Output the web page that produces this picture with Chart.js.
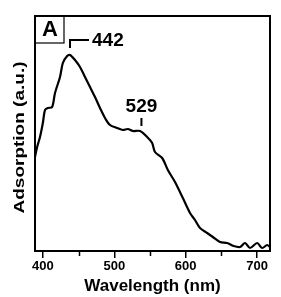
<!DOCTYPE html>
<html lang="en">
<head>
<meta charset="UTF-8">
<title>Adsorption spectrum</title>
<script src="https://cdn.jsdelivr.net/npm/chart.js"></script>
<style>
    html, body { margin: 0; padding: 0; background: #fff; }
    #wrap { position: relative; width: 281px; height: 297px; }
</style>
</head>
<body>
<div id="wrap"><canvas id="spec"></canvas></div>
<script>
// spectrum (wavelength in nm, absorption in arbitrary units)
const wavelength = [389, 392, 396, 400, 403, 407, 413, 417, 424, 428, 434, 438, 445, 452, 459, 466, 473, 480, 487, 494, 504, 512, 519, 526, 536, 546, 553, 557, 567, 575, 585, 596, 606, 613, 620, 630, 638, 648, 658, 667, 676, 683, 690, 700, 707, 714, 718];
const absorption = [94, 104, 114, 128, 141, 143, 144, 158, 174, 188, 195, 196, 191, 184, 174, 164, 154, 143, 133, 126, 123, 121, 122, 120, 120, 114, 108, 99, 93, 81, 69, 53, 38, 31, 23, 18, 14, 9, 8, 5, 4, 8, 3, 8, 3, 6, 4];
const xTicks = [400, 500, 600, 700];
const xMinorTicks = [450, 550, 650];
const peakLabels = ['442', '529'];
const peakAt = [438, 538];       // where the marks sit on the x axis
const peakMarkY = [203, 125];    // bottom of the mark, data units
const yTitle = 'Adsorption (a.u.)';

const font = '"Liberation Sans", Arial, sans-serif';

const decor = {
    id: 'decor',
    afterDraw(chart) {
        const c = chart.ctx, a = chart.chartArea, xs = chart.scales.x, ys = chart.scales.y;
        c.save();
        c.strokeStyle = '#000';
        c.fillStyle = '#000';
        // frame
        c.lineWidth = 2;
        c.strokeRect(a.left, a.top, a.right - a.left, a.bottom - a.top);
        // minor ticks
        c.lineWidth = 1.5;
        xMinorTicks.forEach(v => {
            const px = Math.round(xs.getPixelForValue(v)) + 0.5;
            c.beginPath();
            c.moveTo(px, a.bottom);
            c.lineTo(px, a.bottom + 5);
            c.stroke();
        });
        // panel letter
        c.lineWidth = 1.2;
        c.strokeRect(a.left, a.top, 29, 27);
        c.font = 'bold 22px ' + font;
        c.textAlign = 'center';
        c.textBaseline = 'middle';
        c.fillText('A', a.left + 15, a.top + 14);
        // 442 mark
        c.lineWidth = 2;
        let px = xs.getPixelForValue(peakAt[0]);
        let py = ys.getPixelForValue(peakMarkY[0]);
        c.beginPath();
        c.moveTo(px, py);
        c.lineTo(px, py - 8);
        c.lineTo(px + 19, py - 8);
        c.stroke();
        c.font = 'bold 19px ' + font;
        c.textAlign = 'left';
        c.fillText(peakLabels[0], px + 22, py - 7);
        // 529 mark
        px = xs.getPixelForValue(peakAt[1]);
        py = ys.getPixelForValue(peakMarkY[1]);
        c.beginPath();
        c.moveTo(px, py);
        c.lineTo(px, py - 8);
        c.stroke();
        c.textAlign = 'center';
        c.fillText(peakLabels[1], px, py - 19);
        // y title, squeezed across like the source
        c.translate(20, (a.top + a.bottom) / 2 + 4);
        c.rotate(-Math.PI / 2);
        c.scale(1, 0.8);
        c.font = 'bold 19px ' + font;
        c.fillText(yTitle, 0, 0);
        c.restore();
    }
};

new Chart(document.getElementById('spec'), {
    type: 'line',
    data: {
        datasets: [{
            data: wavelength.map((w, i) => ({ x: w, y: absorption[i] })),
            borderColor: '#000',
            borderWidth: 2.2,
            pointRadius: 0,
            tension: 0.3,
            fill: false
        }]
    },
    options: {
        responsive: true,
        maintainAspectRatio: false,
        animation: false,
        layout: { padding: { top: 16, right: 11, left: 0, bottom: 0 } },
        plugins: { legend: { display: false }, tooltip: { enabled: false } },
        scales: {
            x: {
                type: 'linear',
                min: 389,
                max: 718,
                afterBuildTicks: s => { s.ticks = xTicks.map(v => ({ value: v })); },
                afterFit: s => { s.height = 46; },
                grid: { drawOnChartArea: false, color: '#000', tickLength: 7, lineWidth: 1.5 },
                border: { display: false },
                ticks: {
                    color: '#000',
                    autoSkip: false,
                    maxRotation: 0,
                    padding: 1,
                    font: { family: font, size: 13, weight: 'bold' }
                },
                title: {
                    display: true,
                    text: 'Wavelength (nm)',
                    color: '#000',
                    padding: { top: 0, bottom: 0 },
                    font: { family: font, size: 17, weight: 'bold' }
                }
            },
            y: {
                min: 0,
                max: 235,
                afterFit: s => { s.width = 35; },
                grid: { display: false },
                border: { display: false },
                ticks: { display: false }
            }
        }
    },
    plugins: [decor]
});
</script>
</body>
</html>
